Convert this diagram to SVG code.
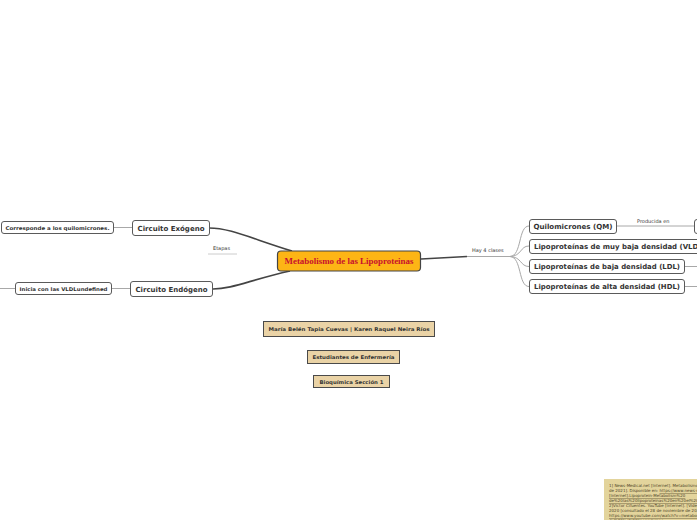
<svg xmlns="http://www.w3.org/2000/svg" width="697" height="520" viewBox="0 0 697 520">
<style>
.bg{fill:#ffffff}
.node rect{fill:#ffffff;stroke:#5a5a5a;stroke-width:1}
.t{font-family:"DejaVu Sans",Verdana,sans-serif;font-weight:bold;fill:#333333}
.main{font-size:7px}
.sub{font-size:5px}
.lbl{font-family:"DejaVu Sans",Verdana,sans-serif;font-size:5px;fill:#333333}
.tan rect{fill:#ead3a6;stroke:#4a4a4a;stroke-width:1}
.conn path,.conn line{fill:none}
.thick{stroke:#444444;stroke-width:1.6}
.thin{stroke:#a8a8a8;stroke-width:1}
.note{font-family:"DejaVu Sans",Verdana,sans-serif;font-size:4px;fill:#4e4528}
</style>
<rect class="bg" x="0" y="0" width="697" height="520"/>

<g id="connectors" class="conn">
  <path class="thick" d="M292 251 C 250 238, 230 228, 209 228"/>
  <path class="thick" d="M290 271 C 250 280, 232 289, 213 289"/>
  <line class="thin" x1="208" y1="254" x2="237" y2="254" style="stroke:#cccccc"/>
  <path class="thick" d="M421 259 L 467 256.5"/>
  <line class="thin" x1="467" y1="256.5" x2="512" y2="256.5"/>
  <path class="thin" d="M510 256.5 C 522 256, 518 226, 529 226"/>
  <path class="thin" d="M510 256.5 C 522 256, 520 246, 529 246"/>
  <path class="thin" d="M510 256.5 C 522 257, 520 266.5, 529 266.5"/>
  <path class="thin" d="M510 256.5 C 522 257, 518 286.5, 529 286.5"/>
  <line class="thin" x1="616" y1="226" x2="694" y2="226"/>
  <line class="thin" x1="685" y1="266.5" x2="697" y2="266.5"/>
  <line class="thin" x1="685" y1="286.5" x2="697" y2="286.5"/>
  <line class="thin" x1="113" y1="227.5" x2="132" y2="227.5"/>
  <line class="thin" x1="111" y1="288.5" x2="130" y2="288.5"/>
  <line class="thin" x1="0" y1="288.5" x2="15" y2="288.5"/>
  <text class="lbl" x="213" y="249.5">Etapas</text>
  <text class="lbl" x="472" y="252">Hay 4 clases</text>
  <text class="lbl" x="637" y="222.5">Producida en</text>
</g>

<g id="central">
  <rect x="277.5" y="251" width="143" height="20" rx="3.5" fill="#fdb515" stroke="#444444" stroke-width="1.2"/>
  <text x="349" y="264" text-anchor="middle" font-family="'Liberation Serif','Times New Roman',serif" font-weight="bold" font-size="8.5" fill="#c8102e" textLength="129" lengthAdjust="spacingAndGlyphs">Metabolismo de las Lipoproteinas</text>
</g>

<g id="exogeno" class="node">
  <rect x="132.5" y="220.5" width="77" height="15" rx="2.5"/>
  <text class="t main" x="171" y="230.5" text-anchor="middle" textLength="67" lengthAdjust="spacingAndGlyphs">Circuito Exógeno</text>
</g>
<g id="endogeno" class="node">
  <rect x="130.5" y="281.5" width="82" height="15" rx="2.5"/>
  <text class="t main" x="171.5" y="291.5" text-anchor="middle" textLength="72" lengthAdjust="spacingAndGlyphs">Circuito Endógeno</text>
</g>
<g id="quilo-desc" class="node">
  <rect x="1.5" y="221.5" width="112" height="12" rx="2.5"/>
  <text class="t sub" x="57.5" y="229.5" text-anchor="middle" textLength="104" lengthAdjust="spacingAndGlyphs">Corresponde a los  quilomicrones.</text>
</g>
<g id="vldl-desc" class="node">
  <rect x="15.5" y="282.5" width="96" height="12" rx="2.5"/>
  <text class="t sub" x="63.5" y="290.5" text-anchor="middle" textLength="88" lengthAdjust="spacingAndGlyphs">Inicia con las VLDLundefined</text>
</g>

<g id="qm" class="node">
  <rect x="529.5" y="219.5" width="87" height="14" rx="2.5"/>
  <text class="t main" x="573" y="229" text-anchor="middle" textLength="79" lengthAdjust="spacingAndGlyphs">Quilomicrones (QM)</text>
</g>
<g id="qm-target" class="node">
  <rect x="694.5" y="219.5" width="20" height="14" rx="2.5"/>
</g>
<g id="vldl" class="node">
  <rect x="529.5" y="239.5" width="180" height="14" rx="2.5"/>
  <text class="t main" x="534" y="249" textLength="172" lengthAdjust="spacingAndGlyphs">Lipoproteínas de muy baja densidad (VLDL)</text>
</g>
<g id="ldl" class="node">
  <rect x="529.5" y="259.5" width="155" height="14" rx="2.5"/>
  <text class="t main" x="607" y="269" text-anchor="middle" textLength="146" lengthAdjust="spacingAndGlyphs">Lipoproteínas de baja densidad (LDL)</text>
</g>
<g id="hdl" class="node">
  <rect x="529.5" y="279.5" width="155" height="14" rx="2.5"/>
  <text class="t main" x="607" y="289" text-anchor="middle" textLength="146" lengthAdjust="spacingAndGlyphs">Lipoproteínas de alta densidad (HDL)</text>
</g>

<g id="autores" class="tan">
  <rect x="263.5" y="321.5" width="171" height="15"/>
  <text class="t sub" x="349" y="331" text-anchor="middle" textLength="161" lengthAdjust="spacingAndGlyphs">María Belén Tapia Cuevas | Karen Raquel Neira Ríos</text>
</g>
<g id="estudiantes" class="tan">
  <rect x="307.5" y="350.5" width="92" height="13"/>
  <text class="t sub" x="353.5" y="359" text-anchor="middle" textLength="82" lengthAdjust="spacingAndGlyphs">Estudiantes de Enfermería</text>
</g>
<g id="seccion" class="tan">
  <rect x="313.5" y="375.5" width="76" height="12"/>
  <text class="t sub" x="351.5" y="384" text-anchor="middle" textLength="64" lengthAdjust="spacingAndGlyphs">Bioquímica Sección 1</text>
</g>

<g id="nota">
  <rect x="604" y="479" width="100" height="45" fill="#e3d49c"/>
  <text class="note" x="609" y="487">1] News-Medical.net [Internet]. Metabolismo</text>
  <text class="note" x="609" y="492">de 2021]. Disponible en: <tspan text-decoration="underline">https://www.news-medical</tspan></text>
  <text class="note" x="609" y="497" text-decoration="underline">[Internet].Lipoprotein-Metabolism%20</text>
  <text class="note" x="609" y="502" text-decoration="underline">de%20las%20lipoproteinas%20en%20el%20</text>
  <text class="note" x="609" y="507">2]Victor Cifuentes. YouTube [Internet]. [Video]</text>
  <text class="note" x="609" y="512">2020 [consultado el 28 de noviembre de 2021]</text>
  <text class="note" x="609" y="517" text-decoration="underline">https://www.youtube.com/watch?v=metabol</text>
  <text class="note" x="609" y="522">de%20las%20lipoproteinas</text>
</g>
</svg>
